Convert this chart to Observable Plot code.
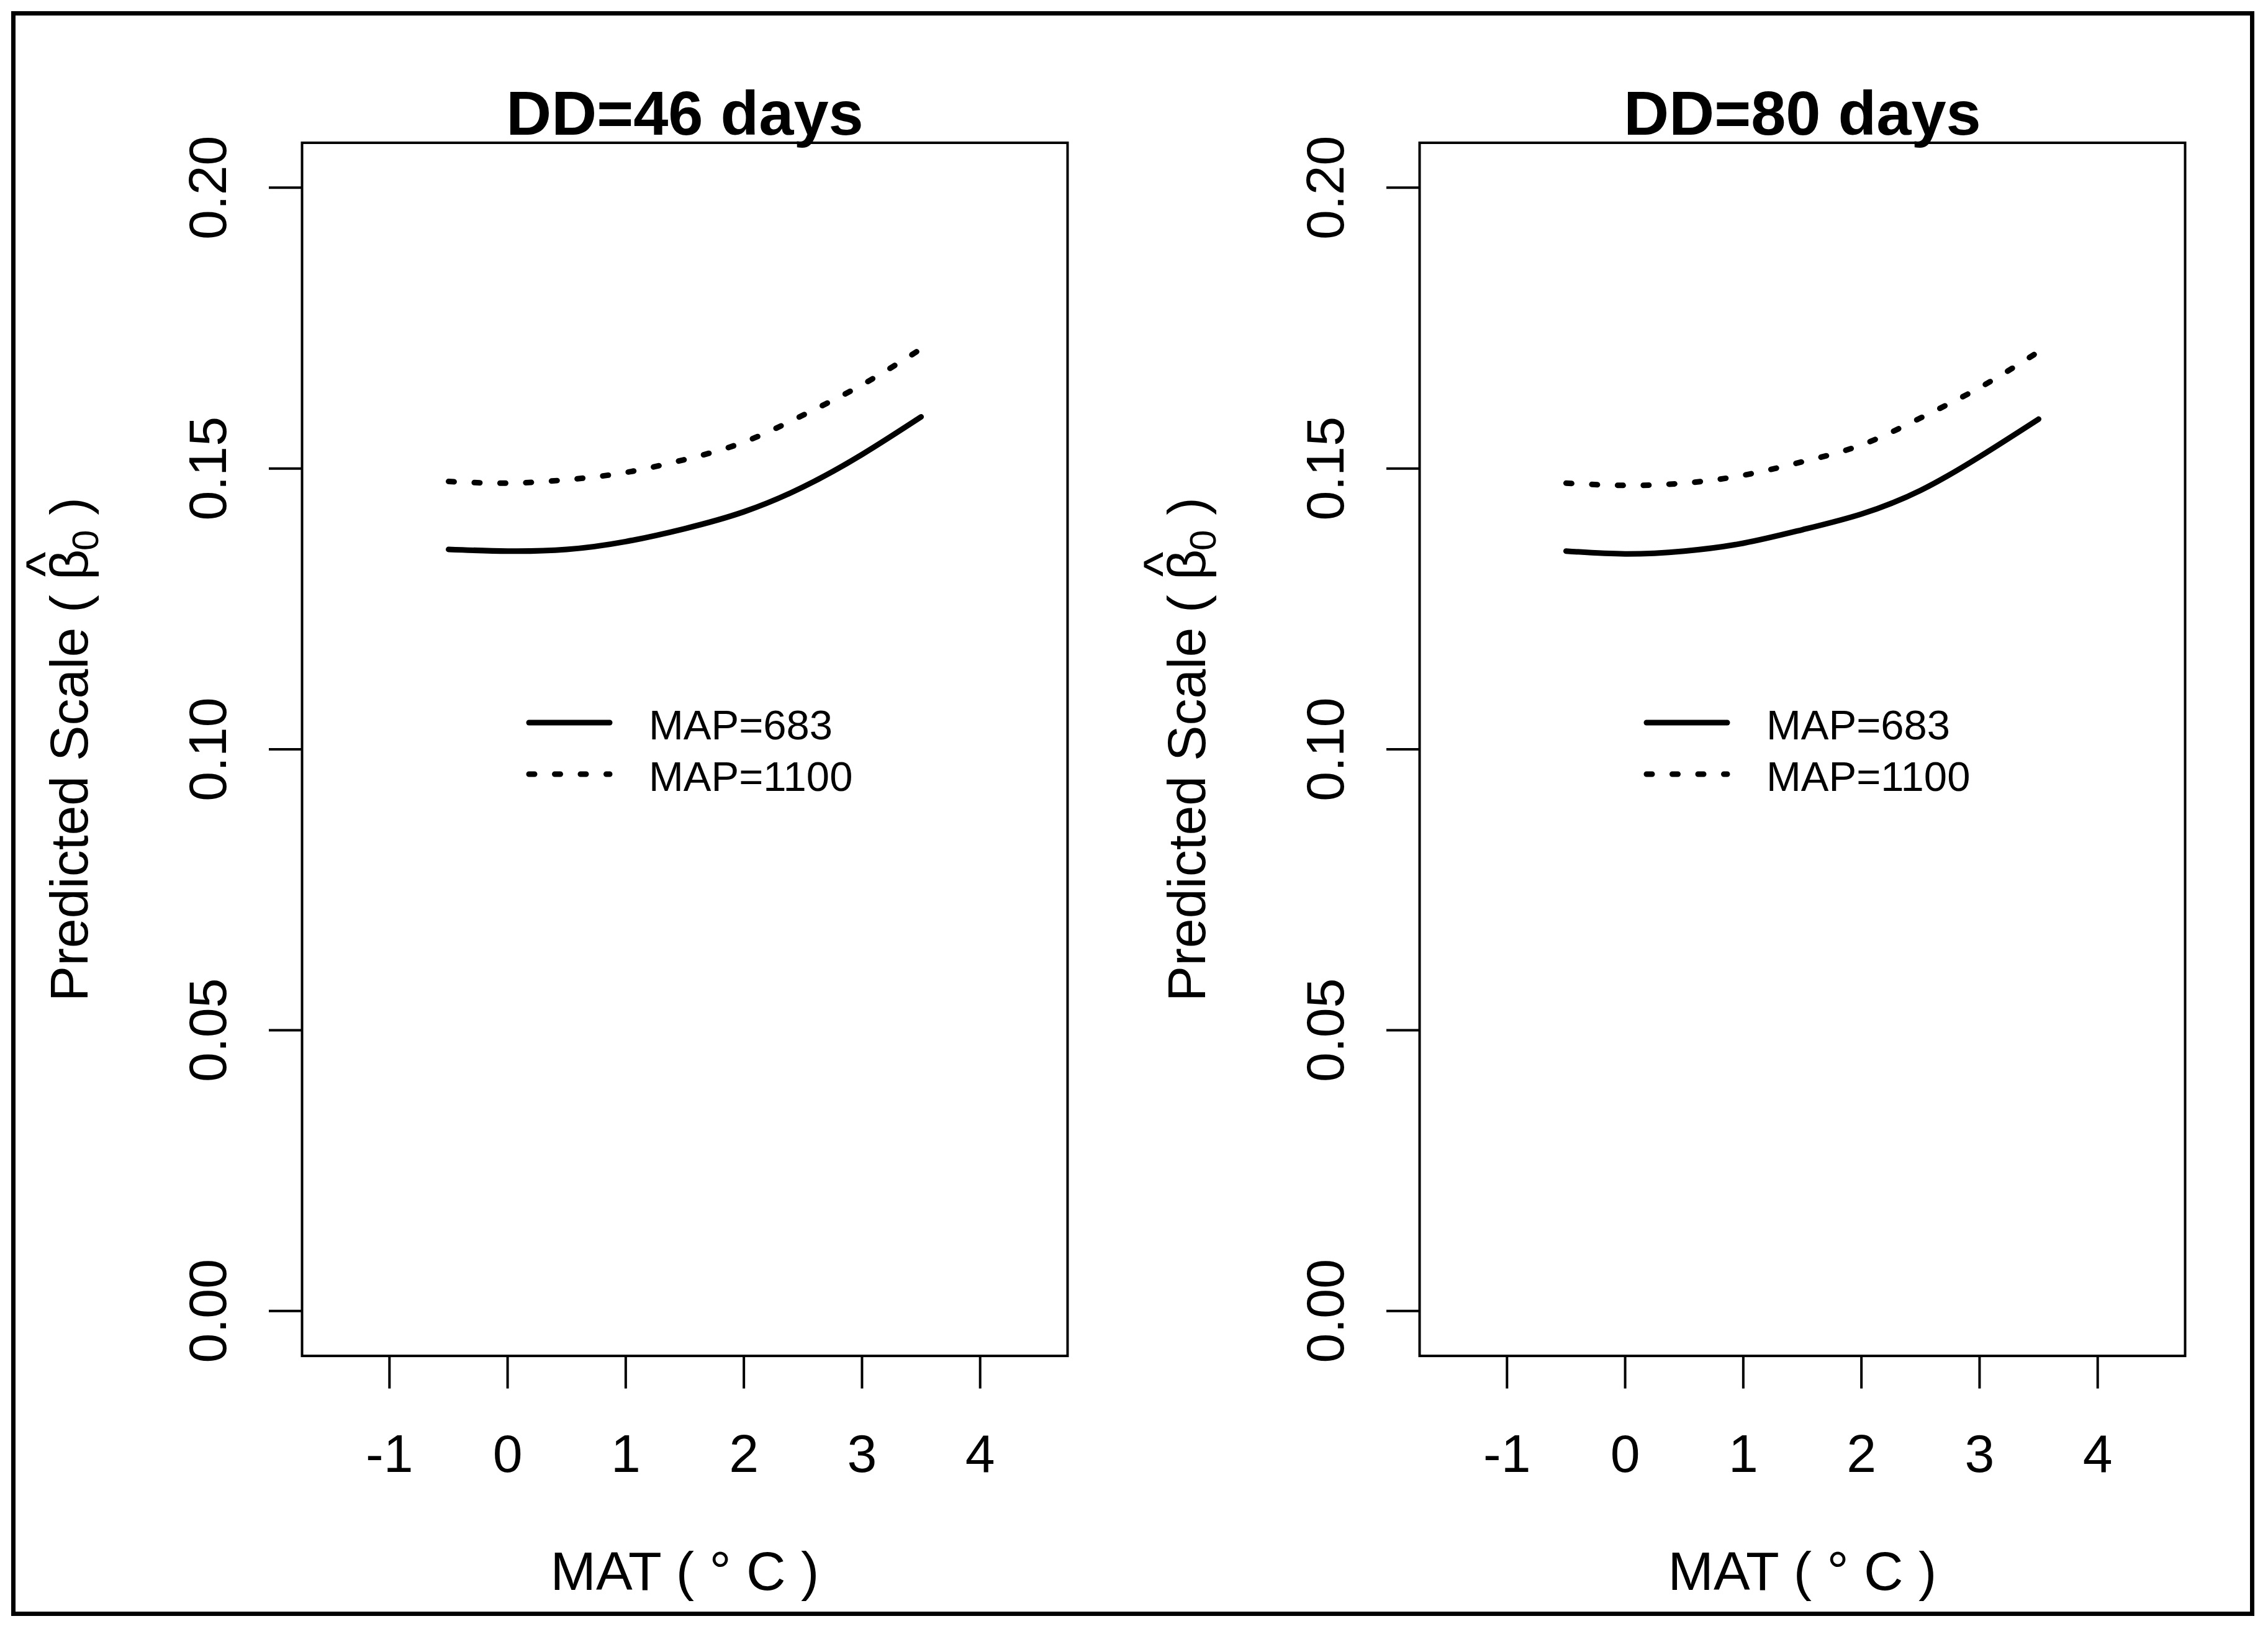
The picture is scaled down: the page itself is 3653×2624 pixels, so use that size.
<!DOCTYPE html>
<html>
<head>
<meta charset="utf-8">
<script src="https://cdn.jsdelivr.net/npm/d3@7"></script>
<script src="https://cdn.jsdelivr.net/npm/@observablehq/plot@0.6"></script>
<style>
  html, body { margin: 0; padding: 0; background: #fff; }
  #wrap { position: relative; width: 3653px; height: 2624px; overflow: hidden; background: #fff;
          font-family: "Liberation Sans", Arial, Helvetica, sans-serif; }
  #frame { position: absolute; left: 17.5px; top: 17.5px; width: 3599px; height: 2571px;
           border: 7px solid #000; }
  .panel { position: absolute; top: 0; }
</style>
</head>
<body>
<div id="wrap"><div id="frame"></div></div>
<script>
// ---- data ----
const panelTitles = ["DD=46 days", "DD=80 days"];
const seriesNames = ["MAP=683", "MAP=1100"];
const mat = [-0.5, 0, 0.5, 1, 1.5, 2, 2.5, 3, 3.5];
const dd46_map683  = [0.1356, 0.1353, 0.1356, 0.1370, 0.1393, 0.1423, 0.1467, 0.1525, 0.1592];
const dd46_map1100 = [0.1477, 0.1474, 0.1480, 0.1493, 0.1516, 0.1547, 0.1595, 0.1649, 0.1713];
const dd80_map683  = [0.1353, 0.1348, 0.1353, 0.1367, 0.1391, 0.1419, 0.1461, 0.1521, 0.1588];
const dd80_map1100 = [0.1474, 0.1470, 0.1474, 0.1488, 0.1512, 0.1542, 0.1590, 0.1644, 0.1708];
const xTicks = [-1, 0, 1, 2, 3, 4];
const yTicks = [0, 0.05, 0.10, 0.15, 0.20];
const yTickLabels = ["0.00", "0.05", "0.10", "0.15", "0.20"];
const xLabel = "MAT ( \u00B0 C )";
const yLabelMain = "Predicted Scale ( ";

// ---- layout ----
const FONT = "Liberation Sans, Arial, Helvetica, sans-serif";
const PW = 1800, PH = 2624;
const ML = 486, MR = 81, MT = 229.5, MB = 440.4;
const LW = 9;
const DOTS = "9,32.5";

function makePanel(title, s683, s1100) {
  const r683 = mat.map((m, i) => ({mat: m, v: s683[i]}));
  const r1100 = mat.map((m, i) => ({mat: m, v: s1100[i]}));
  const chart = Plot.plot({
    width: PW, height: PH,
    marginLeft: ML, marginRight: MR, marginTop: MT, marginBottom: MB,
    x: {domain: [-1.74, 4.74]},
    y: {domain: [-0.008, 0.208]},
    style: {fontFamily: FONT, background: "transparent", color: "#000", overflow: "visible"},
    marks: [
      Plot.frame({stroke: "#000", strokeWidth: 4}),
      Plot.axisX({ticks: xTicks, tickSize: 53, tickPadding: 73, strokeWidth: 4, fontSize: 86,
                  tickFormat: d => String(d), label: null}),
      Plot.axisY({ticks: yTicks, tickSize: 53, strokeWidth: 4, fill: "none", label: null}),
      Plot.text(yTicks, {y: d => d, text: (d, i) => yTickLabels[i], frameAnchor: "left",
                         rotate: -90, dx: -123, textAnchor: "middle", lineAnchor: "bottom", fontSize: 86}),
      Plot.line(r683, {x: "mat", y: "v", curve: "natural", stroke: "#000", strokeWidth: LW,
                       strokeLinecap: "round"}),
      Plot.line(r1100, {x: "mat", y: "v", curve: "natural", stroke: "#000", strokeWidth: LW,
                        strokeLinecap: "round", strokeDasharray: DOTS}),
      Plot.text([title], {text: d => d, frameAnchor: "top", lineAnchor: "bottom", dy: -13.5,
                          fontSize: 101, fontWeight: "bold"}),
      Plot.text([xLabel], {text: d => d, frameAnchor: "bottom", lineAnchor: "bottom", dy: 377,
                           fontSize: 88}),
      Plot.text([yLabelMain], {text: d => d, frameAnchor: "left", rotate: -90, dx: -346,
                               textAnchor: "middle", lineAnchor: "bottom", fontSize: 86})
    ]
  });
  const svg = d3.select(chart);
  // y label with beta-hat and subscript 0
  svg.selectAll("text").filter(function() { return this.textContent === yLabelMain; })
    .each(function() {
      const yl = d3.select(this);
      yl.text(null);
      yl.append("tspan").text(yLabelMain + "\u03B2");
      const bw = 0.56 * 86, hw = 0.469 * 86;
      yl.append("tspan").attr("dx", -(bw + hw) / 2).attr("dy", -40).text("^");
      yl.append("tspan").attr("font-size", 60).attr("dx", (bw - hw) / 2 - 2).attr("dy", 40 + 17).text("0");
      yl.append("tspan").attr("font-size", 86).attr("dy", -17).text(" )");
    });

  // legend
  const lg = svg.append("g").attr("class", "legend").attr("text-anchor", "start");
  const rows = [{y: 1164, dash: null}, {y: 1247, dash: DOTS}];
  rows.forEach((r, i) => {
    lg.append("line").attr("x1", 852).attr("x2", 982).attr("y1", r.y).attr("y2", r.y)
      .attr("stroke", "#000").attr("stroke-width", LW).attr("stroke-linecap", "round")
      .attr("stroke-dasharray", r.dash);
    lg.append("text").attr("x", 1045).attr("y", r.y + 27).attr("font-size", 67)
      .attr("text-anchor", "start")
      .attr("font-family", FONT).attr("fill", "#000").text(seriesNames[i]);
  });
  return chart;
}

const wrap = document.getElementById("wrap");
const p1 = makePanel(panelTitles[0], dd46_map683, dd46_map1100);
p1.classList.add("panel"); p1.style.left = "0px";
const p2 = makePanel(panelTitles[1], dd80_map683, dd80_map1100);
p2.classList.add("panel"); p2.style.left = "1800px";
wrap.appendChild(p1);
wrap.appendChild(p2);
</script>
</body>
</html>
